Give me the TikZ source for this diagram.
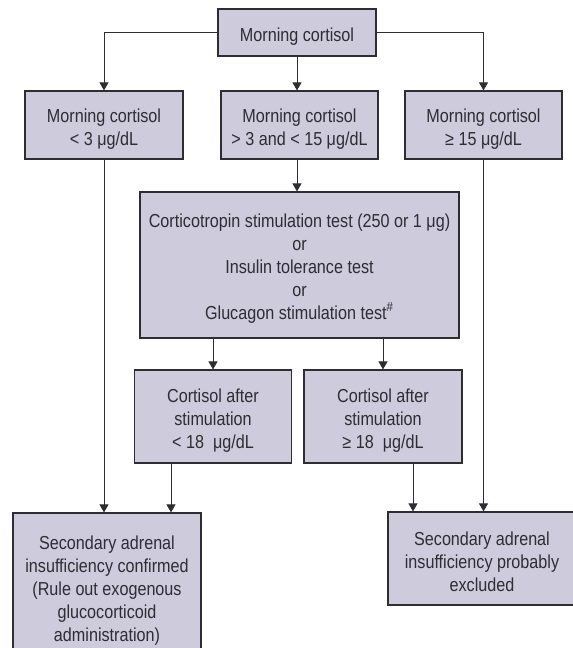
\documentclass[tikz,border=0pt]{standalone}
\usepackage{fontspec}
\setmainfont[FakeStretch=0.86]{Liberation Sans}
\usepackage{tikz}
\usetikzlibrary{positioning,arrows.meta,calc}
\definecolor{boxc}{RGB}{205,203,220}
\definecolor{lnc}{RGB}{45,45,50}
\definecolor{txc}{RGB}{45,45,50}
\newcommand{\tstrut}{\rule{0pt}{10.5pt}}

\begin{document}
\begin{tikzpicture}[x=0.5pt,y=-0.5pt,font=\fontsize{9.4}{11.5}\selectfont,
  >={Triangle[length=4pt,width=4.5pt]},
  box/.style={draw=lnc,line width=0.6pt,fill=boxc,text=txc,align=center,inner sep=0pt},
  lnk/.style={->,draw=lnc,line width=0.5pt}]
  \useasboundingbox (0,0) rectangle (573,648);
  \node[box,minimum width=79pt,minimum height=23.5pt] (top) at (297,32.5) {\tstrut Morning cortisol};
  \node[box,minimum width=79pt,minimum height=34pt] (low) at (104,125) {\tstrut Morning cortisol\\< 3 μg/dL};
  \node[box,minimum width=78.5pt,minimum height=34pt] (mid) at (299.5,125) {\tstrut Morning cortisol\\> 3 and < 15 μg/dL};
  \node[box,minimum width=78.5pt,minimum height=34pt] (high) at (483.5,125) {\tstrut Morning cortisol\\≥ 15 μg/dL};
  \node[box,minimum width=159.5pt,minimum height=73pt] (tests) at (299.5,265)
    {\tstrut Corticotropin stimulation test (250 or 1 μg)\\or\\Insulin tolerance test\\or\\Glucagon stimulation test\textsuperscript{\#}};
  \node[box,minimum width=78.75pt,minimum height=46.5pt] (stlow) at (213,416.5) {\tstrut Cortisol after\\stimulation\\< 18\ \ μg/dL};
  \node[box,minimum width=79pt,minimum height=46.5pt] (sthigh) at (383,416.5) {\tstrut Cortisol after\\stimulation\\≥ 18\ \ μg/dL};
  \node[box,minimum width=94pt,minimum height=74pt] (conf) at (107,587)
    {\tstrut Secondary adrenal\\insufficiency confirmed\\(Rule out exogenous\\glucocorticoid\\administration)};
  \node[box,minimum width=94pt,minimum height=46.5pt] (excl) at (482,558.5)
    {\tstrut Secondary adrenal\\insufficiency probably\\excluded};
  \draw[lnk] (top.west) -| (low.north);
  \draw[lnk] (top.east) -| (high.north);
  \draw[lnk] (top.south) -- (top.south |- mid.north);
  \draw[lnk] (mid.south -| top.south) -- (top.south |- tests.north);
  \draw[lnk] (tests.south -| stlow.north) -- (stlow.north);
  \draw[lnk] (tests.south -| sthigh.north) -- (sthigh.north);
  \draw[lnk] (low.south) -- (low.south |- conf.north);
  \draw[lnk] ([xshift=-21pt]stlow.south) -- ([xshift=-21pt]stlow.south |- conf.north);
  \draw[lnk] ([xshift=15pt]sthigh.south) -- ([xshift=15pt]sthigh.south |- excl.north);
  \draw[lnk] (high.south) -- (high.south |- excl.north);
\end{tikzpicture}
\end{document}
